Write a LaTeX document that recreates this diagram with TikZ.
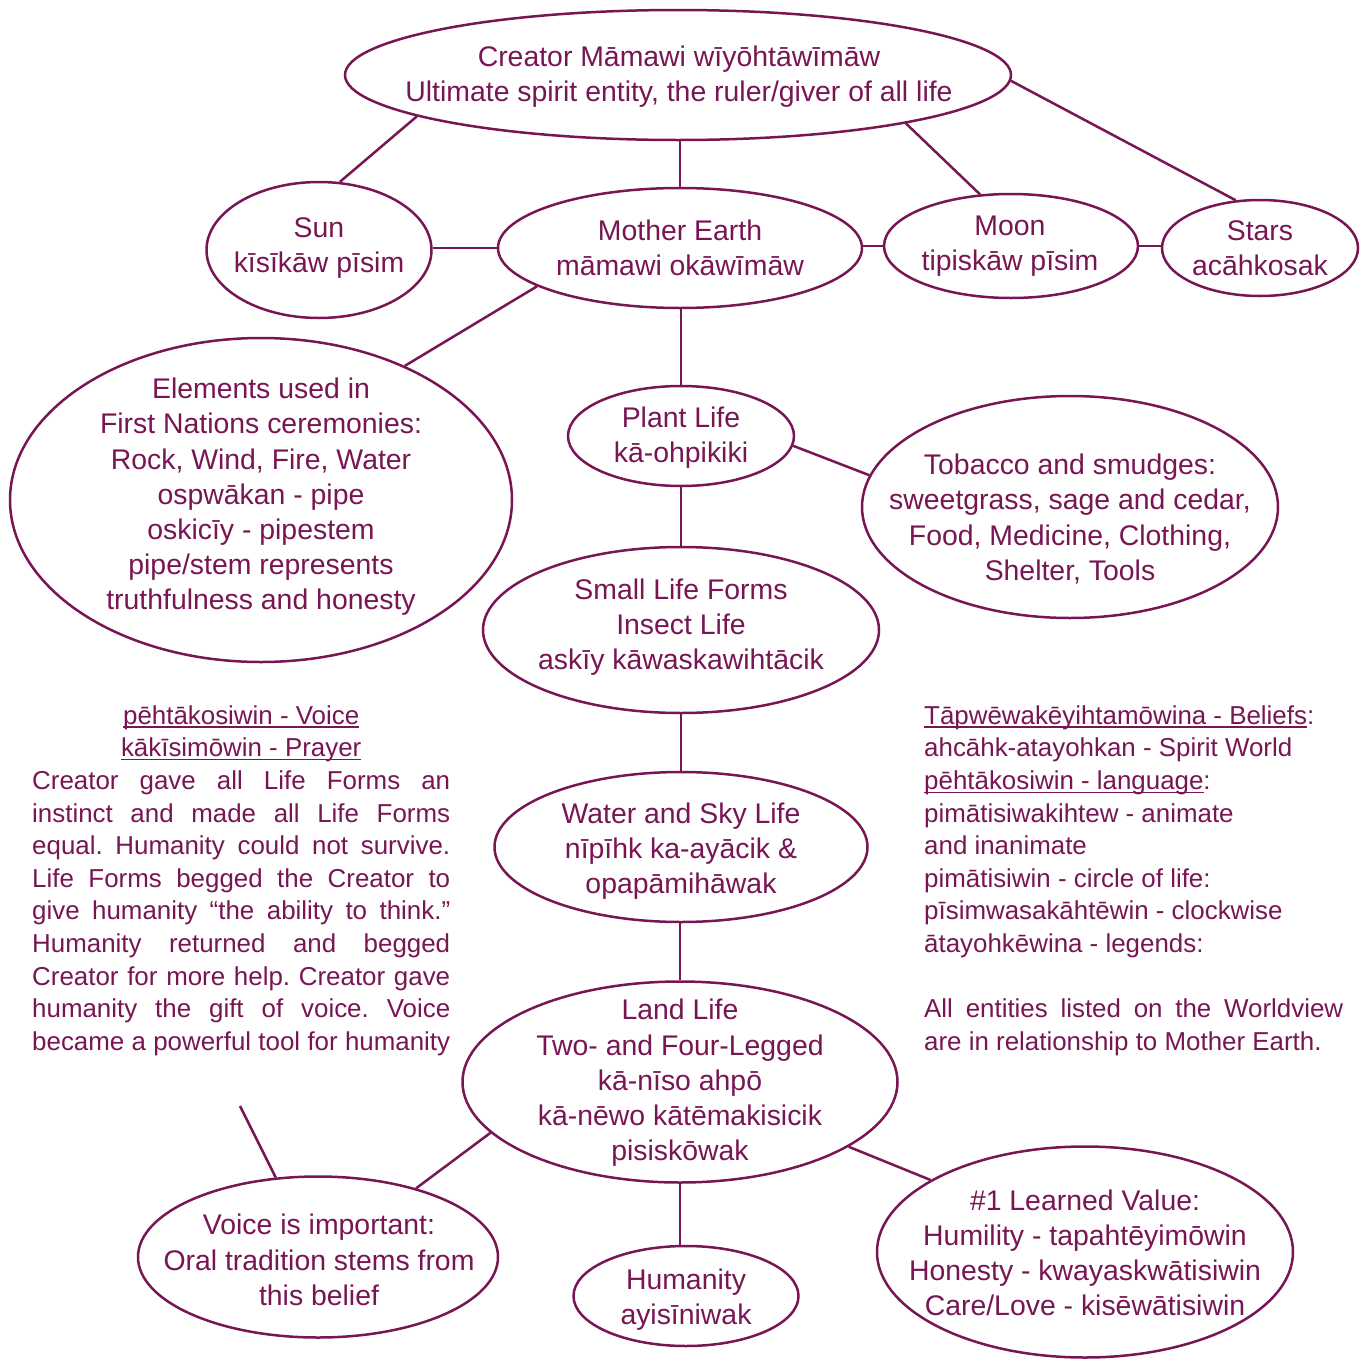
\documentclass[tikz,border=0pt]{standalone}
\usepackage{fontspec}
\setmainfont{Liberation Sans}
\usetikzlibrary{shapes.geometric}
\definecolor{wvcol}{RGB}{120,22,84}
\newcommand\myul[1]{{\setbox0\hbox{#1}\rlap{\rule[-3.5pt]{\wd0}{1.4pt}}\box0}}
\frenchspacing
\begin{document}
\begin{tikzpicture}[x=1pt,y=-1pt,
  ell/.style={draw=wvcol, line width=2.5pt, ellipse, inner sep=0pt},
  txt/.style={text=wvcol, align=center, font=\fontsize{28.4}{35.2}\selectfont, inner sep=0pt},
  link/.style={draw=wvcol, line width=2.5pt},
  para/.style={text=wvcol, inner sep=0pt, anchor=north west, font=\fontsize{25.9}{32.6}\selectfont\frenchspacing}]
\fill[white] (0,0) rectangle (1361,1360);
\useasboundingbox (0,0) rectangle (1361,1360);

% ellipses
\node[ell, minimum width=666pt, minimum height=130pt] (creator) at (678,75) {};
\node[ell, minimum width=225pt, minimum height=136pt] (sun) at (319,250) {};
\node[ell, minimum width=364pt, minimum height=120pt] (earth) at (680,248) {};
\node[ell, minimum width=254pt, minimum height=104pt] (moon) at (1011,246) {};
\node[ell, minimum width=196pt, minimum height=96pt] (stars) at (1260,248) {};
\node[ell, minimum width=502pt, minimum height=324pt] (elements) at (261,500) {};
\node[ell, minimum width=226pt, minimum height=100pt] (plant) at (681,436) {};
\node[ell, minimum width=416pt, minimum height=222pt] (tobacco) at (1070,507) {};
\node[ell, minimum width=396pt, minimum height=166pt] (small) at (681,630) {};
\node[ell, minimum width=373pt, minimum height=150pt] (water) at (681,847) {};
\node[ell, minimum width=435pt, minimum height=201pt] (land) at (680,1082) {};
\node[ell, minimum width=360pt, minimum height=161pt] (voice) at (318,1257) {};
\node[ell, minimum width=225pt, minimum height=100pt] (human) at (686,1296) {};
\node[ell, minimum width=416pt, minimum height=211pt] (value) at (1085,1252) {};

% texts in ellipses
\node[txt] (creatort) at (679,77) {Creator Māmawi wīyōhtāwīmāw\\Ultimate spirit entity, the ruler/giver of all life};
\node[txt] (sunt) at (319,248) {Sun\\kīsīkāw pīsim};
\node[txt] (eartht) at (680,248) {Mother Earth\\māmawi okāwīmāw};
\node[txt] (moont) at (1010,246) {Moon\\tipiskāw pīsim};
\node[txt] (starst) at (1260,248) {Stars\\acāhkosak};
\node[txt] (elementst) at (261,497) {Elements used in\\First Nations ceremonies:\\Rock, Wind, Fire, Water\\ospwākan - pipe\\oskicīy - pipestem\\pipe/stem represents\\truthfulness and honesty};
\node[txt] (plantt) at (681,438) {Plant Life\\kā-ohpikiki};
\node[txt] (tobaccot) at (1070,519) {Tobacco and smudges:\\sweetgrass, sage and cedar,\\Food, Medicine, Clothing,\\Shelter, Tools};
\node[txt] (smallt) at (681,627) {Small Life Forms\\Insect Life\\askīy kāwaskawihtācik};
\node[txt] (watert) at (681,851) {Water and Sky Life\\nīpīhk ka-ayācik \&\\opapāmihāwak};
\node[txt] (landt) at (680,1083) {Land Life\\Two- and Four-Legged\\kā-nīso ahpō\\kā-nēwo kātēmakisicik\\pisiskōwak};
\node[txt] (voicet) at (319,1260) {Voice is important:\\Oral tradition stems from\\this belief};
\node[txt] (humant) at (686,1300) {Humanity\\ayisīniwak};
\node[txt] (valuet) at (1085,1253) {\#1 Learned Value:\\Humility - tapahtēyimōwin\\Honesty - kwayaskwātisiwin\\Care/Love - kisēwātisiwin};

% free text blocks
\node[para, text width=418pt, align=justify] (voiceblock) at (32,700) {\leavevmode\hbox to\hsize{\hss\rule{0pt}{24pt}\myul{pēhtākosiwin - Voice}\hss}\\
\hbox to\hsize{\hss\myul{kākīsimōwin - Prayer}\hss}\\
\parfillskip=0pt
Creator gave all Life Forms an\linebreak instinct and made all Life Forms\linebreak equal. Humanity could not survive.\linebreak Life Forms begged the Creator to\linebreak give humanity “the ability to think.”\linebreak Humanity returned and begged\linebreak Creator for more help. Creator gave\linebreak humanity the gift of voice. Voice\linebreak became a powerful tool for humanity\par};

\node[para, text width=419pt, align=justify] (beliefs) at (924,700) {\rule{0pt}{24pt}\myul{Tāpwēwakēyihtamōwina - Beliefs}:\\
ahcāhk-atayohkan - Spirit World\\
\myul{pēhtākosiwin - language}:\\
pimātisiwakihtew - animate\\
and inanimate\\
pimātisiwin - circle of life:\\
pīsimwasakāhtēwin - clockwise\\
ātayohkēwina - legends:\\
\mbox{}\\
All entities listed on the Worldview\linebreak are in relationship to Mother Earth.};

% connectors
\coordinate (vfree) at (240,1106);
\draw[link] (creator.189) -- (sun.73);
\draw[link] (earth.north) -- (earth.north |- creator.south);
\draw[link] (creator.-12.7) -- (moon.121);
\draw[link] (creator.-1) -- (stars.117);
\draw[link] (earth.west) -- (earth.west -| sun.east);
\draw[link] (moon.west) -- (moon.west -| earth.east);
\draw[link] (moon.east) -- (moon.east -| stars.west);
\draw[link] (earth.195.8) -- (elements.43);
\draw[link] (plant.north) -- (plant.north |- earth.south);
\draw[link] (plant.-5.4) -- (tobacco.171);
\draw[link] (small.north) -- (small.north |- plant.south);
\draw[link] (water.north) -- (water.north |- small.south);
\draw[link] (land.north) -- (land.north |- water.south);
\draw[link] (land.195.4) -- (voice.35);
\draw[link] (land.south) -- (land.south |- human.north);
\draw[link] (land.-21.8) -- (value.155);
\draw[link] (vfree) -- (voice.118);
\end{tikzpicture}
\end{document}
